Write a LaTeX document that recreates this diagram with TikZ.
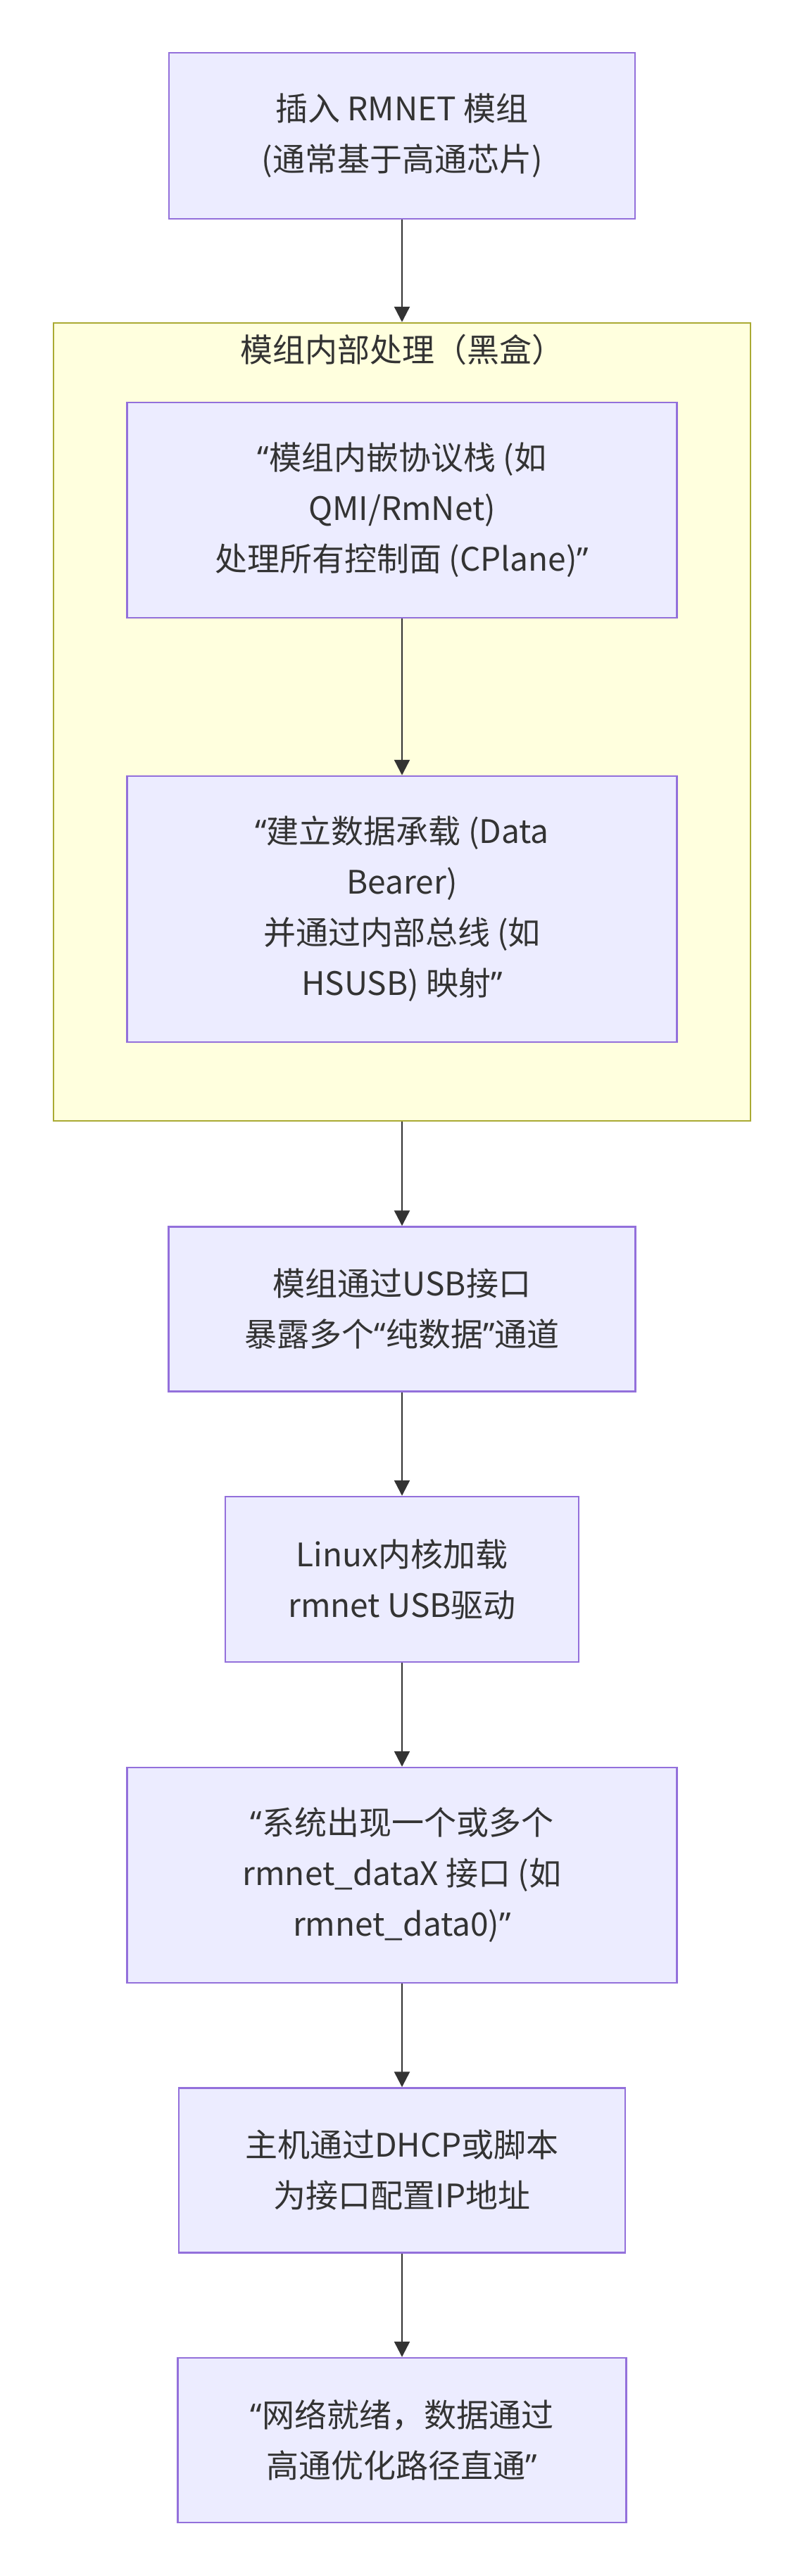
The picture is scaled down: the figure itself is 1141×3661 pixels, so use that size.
\documentclass[tikz,border=0pt]{standalone}
\usepackage{fontspec}
\setmainfont{Noto Sans CJK SC}
\newfontfamily\latq{Noto Sans}
\newcommand{\myLq}{{\latq “}}
\newcommand{\myRq}{{\latq ”}}
\usetikzlibrary{arrows.meta}
\definecolor{boxfill}{HTML}{ECECFF}
\definecolor{boxline}{HTML}{9370DB}
\definecolor{clfill}{HTML}{FFFFDE}
\definecolor{clline}{HTML}{AAAA33}
\definecolor{txt}{HTML}{333333}
\begin{document}
\begin{tikzpicture}[x=1pt,y=-1pt,
 box/.style={draw=boxline, fill=boxfill, line width=2.5pt, inner sep=0pt, align=center, text=txt, font=\fontsize{46}{72}\selectfont},
 cluster/.style={draw=clline, fill=clfill, line width=2.5pt, inner sep=0pt},
 title/.style={text=txt, inner sep=0pt, font=\fontsize{46}{72}\selectfont},
 arr/.style={draw=txt, line width=2.5pt, -{Triangle[length=22pt,width=22pt]}}]
\useasboundingbox (0,0) rectangle (1141,3661);
\node[cluster, minimum width=990pt, minimum height=1134pt] (cl) at (571,1026) {};
\node[title] (cltitle) at (571,497) {模组内部处理（黑盒）};
\node[box, minimum width=662pt, minimum height=236pt] (b1) at (571,193) {插入 RMNET 模组\\(通常基于高通芯片)};
\node[box, minimum width=781pt, minimum height=306pt] (b2) at (571,725) {\myLq 模组内嵌协议栈 (如\\QMI/RmNet)\\处理所有控制面 (CPlane)\myRq};
\node[box, minimum width=781pt, minimum height=378pt] (b3) at (571,1292) {\myLq 建立数据承载 (Data\\Bearer)\\并通过内部总线 (如\\HSUSB) 映射\myRq};
\node[box, minimum width=663pt, minimum height=234pt] (b4) at (571,1860.5) {模组通过USB接口\\暴露多个\myLq 纯数据\myRq 通道};
\node[box, minimum width=502pt, minimum height=235pt] (b5) at (571,2244.5) {Linux内核加载\\rmnet USB驱动};
\node[box, minimum width=781pt, minimum height=306pt] (b6) at (571,2665) {\myLq 系统出现一个或多个\\rmnet\_dataX 接口 (如\\rmnet\_data0)\myRq};
\node[box, minimum width=634pt, minimum height=234pt] (b7) at (571,3084.5) {主机通过DHCP或脚本\\为接口配置IP地址};
\node[box, minimum width=637pt, minimum height=234pt] (b8) at (571,3468) {\myLq 网络就绪，数据通过\\高通优化路径直通\myRq};
\draw[arr] (b1) -- (cl);
\draw[arr] (b2) -- (b3);
\draw[arr] (cl) -- (b4);
\draw[arr] (b4) -- (b5);
\draw[arr] (b5) -- (b6);
\draw[arr] (b6) -- (b7);
\draw[arr] (b7) -- (b8);
\end{tikzpicture}
\end{document}
